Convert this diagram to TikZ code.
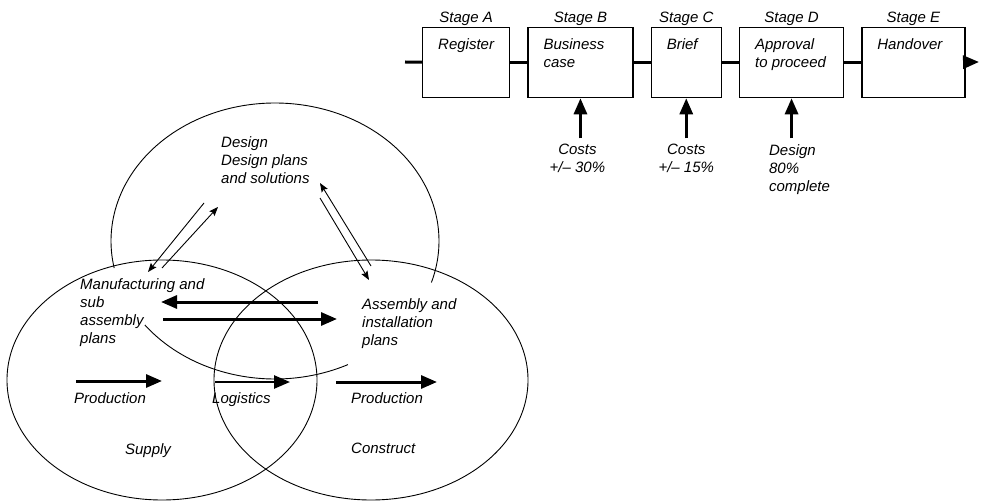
\documentclass[tikz,border=0pt]{standalone}
\usepackage{fontspec}
\setmainfont{Liberation Sans}
\usetikzlibrary{positioning,arrows.meta}

\begin{document}
\begin{tikzpicture}[
        x=1pt, y=-1pt,
        node distance=17pt,
        every node/.style={font=\fontsize{15}{18}\selectfont\itshape},
        stagebox/.style={rectangle, draw, line width=1.3pt, minimum height=70pt, inner sep=0pt},
        intext/.style={align=left, inner sep=0pt},
        txt/.style={align=left, inner sep=0pt, anchor=north west},
        link/.style={line width=3pt},
        bigarr/.style={-{Triangle[length=16pt, width=13pt]}, line width=3pt},
        thinarr/.style={-{Stealth[length=9pt, width=7pt, inset=1.5pt]}, line width=0.9pt},
        ring/.style={line width=0.9pt},
    ]
    \useasboundingbox (0,0) rectangle (981,502);

    % === Stages ===
    \node[stagebox, minimum width=87pt, anchor=north west, label={[label distance=-2pt]above:Stage A}] (reg) at (422,27) {};
    \node[stagebox, minimum width=105pt, right=of reg, label={[label distance=-2pt]above:Stage B}] (bus) {};
    \node[stagebox, minimum width=70pt, right=of bus, label={[label distance=-2pt]above:Stage C}] (brf) {};
    \node[stagebox, minimum width=104pt, right=of brf, label={[label distance=-2pt]above:Stage D}] (apr) {};
    \node[stagebox, minimum width=103pt, right=of apr, label={[label distance=-2pt]above:Stage E}] (hnd) {};

    \node[intext, below right=11pt and 16pt of reg.north west] (regT) {Register};
    \node[intext, below right=11pt and 16pt of bus.north west] (busT) {Business\\case};
    \node[intext, below right=11pt and 16pt of brf.north west] (brfT) {Brief};
    \node[intext, below right=11pt and 16pt of apr.north west] (aprT) {Approval\\to proceed};
    \node[intext, below right=11pt and 16pt of hnd.north west] (hndT) {Handover};

    \coordinate (lnS) at (405,62);
    \coordinate (lnE) at (979,62);
    \draw[link] (lnS) -- (reg);
    \draw[link] (reg) -- (bus);
    \draw[link] (bus) -- (brf);
    \draw[link] (brf) -- (apr);
    \draw[link] (apr) -- (hnd);
    \draw[bigarr] (hnd) -- (lnE);

    % checkpoints
    \node[intext, align=center, below=46pt of bus.south, xshift=-3pt] (costB) {Costs\\+/– 30\%};
    \node[intext, align=center, below=46pt of brf.south] (costC) {Costs\\+/– 15\%};
    \node[intext, below right=46pt and 30pt of apr.south west] (dsgD) {Design\\80\%\\complete};
    \coordinate (upB) at ([yshift=-40pt]bus.south);
    \coordinate (upC) at ([yshift=-40pt]brf.south);
    \coordinate (upD) at ([yshift=-40pt]apr.south);
    \draw[bigarr] (upB) -- (bus.south);
    \draw[bigarr] (upC) -- (brf.south);
    \draw[bigarr] (upD) -- (apr.south);

    % === Design / Supply / Construct ===
    \draw[ring] plot[domain=63.6:142.5, samples=60, smooth] ({275+164*cos(\x)}, {241+138*sin(\x)});
    \draw[ring] plot[domain=168.7:377.5, samples=120, smooth] ({275+164*cos(\x)}, {241+138*sin(\x)});
    \draw[ring] (162,380) ellipse [x radius=155pt, y radius=120pt];
    \draw[ring] (371,380) ellipse [x radius=157pt, y radius=120pt];

    \node[txt] (desT) at (221,136) {Design\\Design plans\\and solutions};
    \node[txt] (mfgT) at (80,278) {Manufacturing and\\sub\\assembly\\plans};
    \node[txt] (asmT) at (362,298) {Assembly and\\installation\\plans};
    \node[txt] (prodS) at (74,392) {Production};
    \node[txt] (logT) at (212,392) {Logistics};
    \node[txt] (prodC) at (351,392) {Production};
    \node[intext, anchor=north] (supT) at (148,443) {Supply};
    \node[txt] (conT) at (351,443) {Construct};

    % design links
    \coordinate (dm1) at (204,203); \coordinate (dm2) at (148,272);
    \coordinate (md1) at (162,268); \coordinate (md2) at (218,207);
    \coordinate (da1) at (320,198); \coordinate (da2) at (369,280);
    \coordinate (ad1) at (371,266); \coordinate (ad2) at (320,183);
    \draw[thinarr] (dm1) -- (dm2);
    \draw[thinarr] (md1) -- (md2);
    \draw[thinarr] (da1) -- (da2);
    \draw[thinarr] (ad1) -- (ad2);

    % plans exchange
    \coordinate (am1) at (318,302); \coordinate (am2) at (161,302);
    \coordinate (ma1) at (163,319); \coordinate (ma2) at (337,319);
    \draw[bigarr] (am1) -- (am2);
    \draw[bigarr] (ma1) -- (ma2);

    % flow
    \coordinate (ps1) at (76,381);  \coordinate (ps2) at (162,381);
    \coordinate (lg1) at (215,382); \coordinate (lg2) at (290,382);
    \coordinate (pc1) at (336,382); \coordinate (pc2) at (437,382);
    \draw[bigarr] (ps1) -- (ps2);
    \draw[bigarr, line width=2.5pt] (lg1) -- (lg2);
    \draw[bigarr] (pc1) -- (pc2);

\end{tikzpicture}
\end{document}
